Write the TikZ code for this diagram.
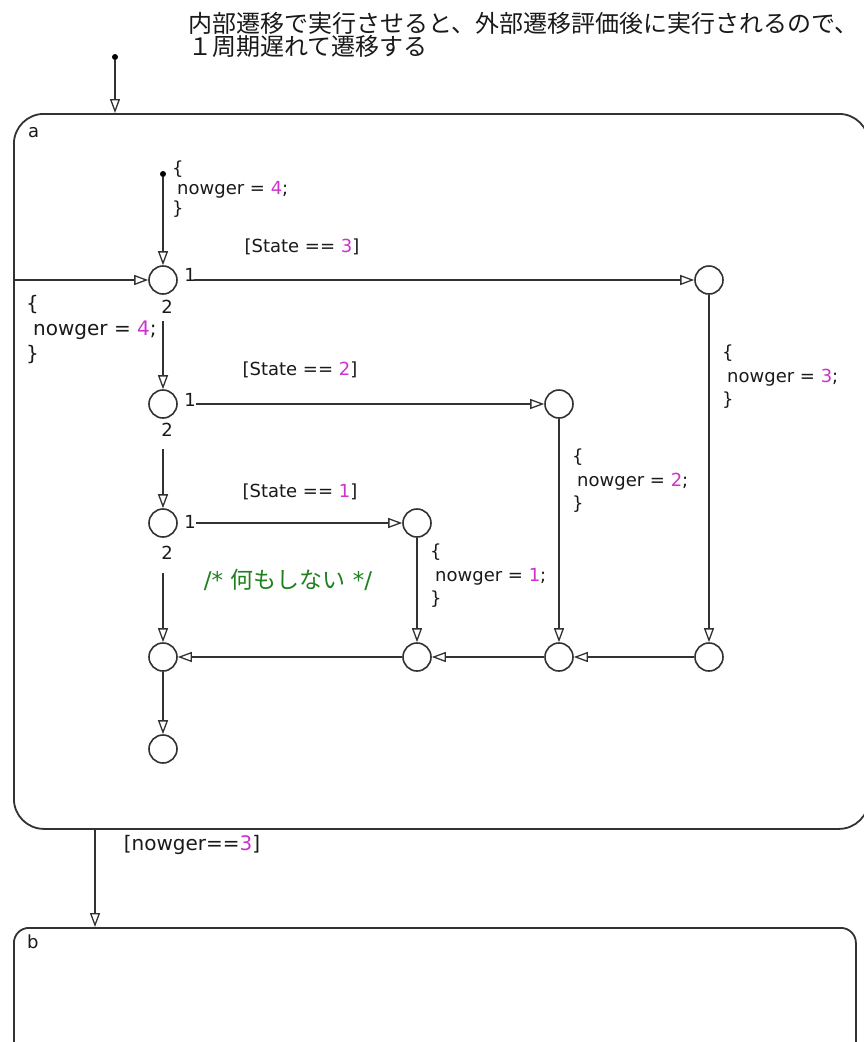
\documentclass[tikz,border=0pt]{standalone}
\usepackage{fontspec}
\setmainfont{DejaVu Sans}
\newfontfamily\jp{Noto Sans CJK JP}
\usetikzlibrary{arrows.meta,calc}
\definecolor{mag}{RGB}{204,51,204}
\definecolor{grn}{RGB}{30,128,30}
\definecolor{ln}{RGB}{50,50,50}
\begin{document}
\begin{tikzpicture}[x=1pt,y=-1pt,
  tr/.style={draw=ln, line width=1.8pt, -{Triangle[open,length=14pt,width=10pt,line width=1.3pt]}},
  junc/.style={circle, draw=ln, line width=1.6pt, minimum size=28pt, inner sep=0pt},
  dot/.style={circle, fill=black, inner sep=0pt, minimum size=6pt},
  lbl/.style={font=\fontsize{18}{22}\selectfont, inner sep=0pt, text=black!90},
  chart/.style={draw=ln, line width=1.8pt, inner sep=0pt, anchor=north west},
]
\useasboundingbox (0,0) rectangle (864,1042);
\clip (0,0) rectangle (864,1042);

% title
\node[anchor=north west, inner sep=0pt, align=left, text=black!90,
      font=\jp\fontsize{24}{22}\selectfont] (title) at (188,12)
  {内部遷移で実行させると、外部遷移評価後に実行されるので、\\１周期遅れて遷移する};

% states
\node[chart, rounded corners=30pt, minimum width=855pt, minimum height=715pt] (a) at (13,113) {};
\node[chart, rounded corners=15pt, minimum width=842pt, minimum height=200pt] (b) at (13,927) {};
\node[lbl, anchor=base west] (la) at (28,137) {a};
\node[lbl, anchor=base west] (lb) at (27,948) {b};

% outer default transition
\node[dot] (d0) at (115,57) {};
\draw[tr] (d0) -- (d0 |- a.north);

% a -> b
\coordinate (abx) at (95,880);
\draw[tr] (a.south -| abx) -- (b.north -| abx);
\node[font=\fontsize{20}{24}\selectfont, inner sep=0pt, text=black!90] (gab) at (192,845) {[nowger==\textcolor{mag}{3}]};

% junctions
\node[junc] (J1) at (163,280) {};
\node[junc] (J2) at (163,404) {};
\node[junc] (J3) at (163,523) {};
\node[junc] (J4) at (163,657) {};
\node[junc] (J5) at (163,749) {};
\node[junc] (R3) at (709,280) {};
\node[junc] (R2) at (559,404) {};
\node[junc] (R1) at (417,523) {};
\node[junc] (B3) at (709,657) {};
\node[junc] (B2) at (559,657) {};
\node[junc] (B1) at (417,657) {};

% junction order labels
\node[lbl] (o11) at (190,275) {1};
\node[lbl] (o12) at (167,307) {2};
\node[lbl] (o21) at (190,400) {1};
\node[lbl] (o22) at (167,430) {2};
\node[lbl] (o31) at (190,522) {1};
\node[lbl] (o32) at (167,553) {2};

% inner default transition
\node[dot] (d1) at (163,174) {};
\draw[tr] (d1) -- (J1);
\node[lbl, align=left, anchor=west, font=\fontsize{18}{20}\selectfont] (act0) at (172,189)
  {\{\\\hspace{5pt}nowger = \textcolor{mag}{4};\\\}};

% inner transition from border of a
\draw[tr] (J1 -| a.west) -- (J1);
\node[lbl, align=left, anchor=west, font=\fontsize{20}{25}\selectfont] (actL) at (26,330)
  {\{\\\hspace{7pt}nowger = \textcolor{mag}{4};\\\}};

% vertical chain
\draw[tr, shorten <=26pt] (J1) -- (J2);
\draw[tr, shorten <=30pt] (J2) -- (J3);
\draw[tr, shorten <=35pt] (J3) -- (J4);
\draw[tr] (J4) -- (J5);

% conditions
\draw[tr, shorten <=16pt] (J1) -- (R3);
\draw[tr, shorten <=18pt] (J2) -- (R2);
\draw[tr, shorten <=18pt] (J3) -- (R1);
\node[lbl] (c3) at (302,247) {[State == \textcolor{mag}{3}]};
\node[lbl] (c2) at (300,370) {[State == \textcolor{mag}{2}]};
\node[lbl] (c1) at (300,492) {[State == \textcolor{mag}{1}]};

% actions
\draw[tr] (R3) -- (B3);
\draw[tr] (R2) -- (B2);
\draw[tr] (R1) -- (B1);
\node[lbl, align=left, anchor=west, font=\fontsize{18}{23.5}\selectfont] (act3) at (722,377)
  {\{\\\hspace{5pt}nowger = \textcolor{mag}{3};\\\}};
\node[lbl, align=left, anchor=west, font=\fontsize{18}{23.5}\selectfont] (act2) at (572,481)
  {\{\\\hspace{5pt}nowger = \textcolor{mag}{2};\\\}};
\node[lbl, align=left, anchor=west, font=\fontsize{18}{23.5}\selectfont] (act1) at (430,576)
  {\{\\\hspace{5pt}nowger = \textcolor{mag}{1};\\\}};

% merge row
\draw[tr] (B3) -- (B2);
\draw[tr] (B2) -- (B1);
\draw[tr] (B1) -- (J4);

% comment
\node[inner sep=0pt, text=grn, font=\fontsize{23}{26}\selectfont] (cm) at (288,580) {/* {\jp 何もしない} */};
\end{tikzpicture}
\end{document}
